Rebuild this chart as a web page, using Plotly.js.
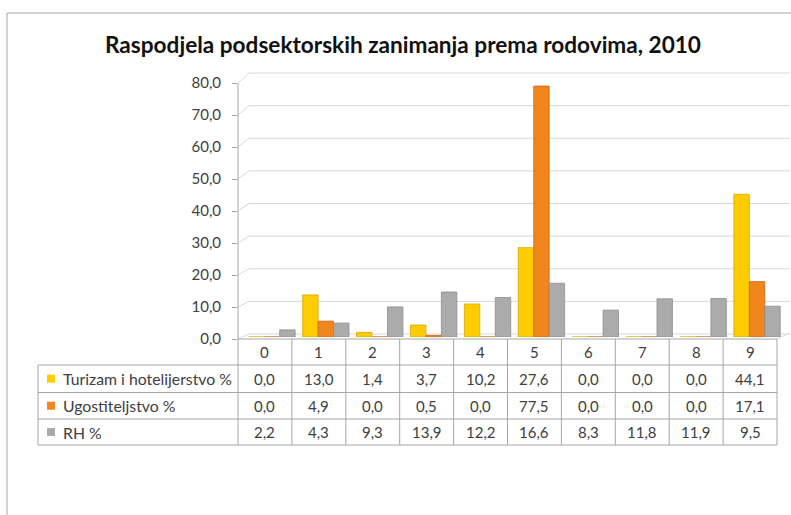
<!DOCTYPE html>
<html>
<head>
<meta charset="utf-8">
<script src="https://cdn.plot.ly/plotly-3.0.1.min.js"></script>
<style>html,body{margin:0;padding:0;background:#fff;}#chart{width:791px;height:515px;}</style>
</head>
<body>
<div id="chart"></div>
<script>
// ---- data ----
const categories = ['0','1','2','3','4','5','6','7','8','9'];
const turizam = [0.0, 13.0, 1.4, 3.7, 10.2, 27.6, 0.0, 0.0, 0.0, 44.1];
const ugostiteljstvo = [0.0, 4.9, 0.0, 0.5, 0.0, 77.5, 0.0, 0.0, 0.0, 17.1];
const rh = [2.2, 4.3, 9.3, 13.9, 12.2, 16.6, 8.3, 11.8, 11.9, 9.5];
const seriesNames = ['Turizam i hotelijerstvo %', 'Ugostiteljstvo %', 'RH %'];
const yTicks = [0, 10, 20, 30, 40, 50, 60, 70, 80];
const chartTitle = 'Raspodjela podsektorskih zanimanja prema rodovima, 2010';

// ---- styles / geometry ----
const colors = ['#FFCC00', '#F0861C', '#ABABAB'];
const edgeColors = ['#D6A800', '#C8661A', '#8E8E8E'];
const W = 791, H = 515, L = 238, R = 1, T = 78, B = 176;
const PW = W - L - R, PH = H - T - B;
const frontTop = 83;          // pixel of 80,0 on the front axis
const barBase = 337, barTop = 78; // mid-depth plane of the bars
const tableRight = 777, barShift = 7;
const fontFam = 'Lato, "Open Sans", sans-serif';
const txtColor = '#404040';
const lineColor = '#A6A6A6';
const gridColor = '#D9D9D9';

const px2x = px => (px - L) / PW;
const px2y = py => (H - B - py) / PH;
const yMax = 80;
const val2py = v => (H - B) - v / yMax * (H - B - frontTop);

const fmt = v => v.toFixed(1).replace('.', ',');
const seriesVals = [turizam, ugostiteljstvo, rh];

const traces = seriesVals.map((vals, i) => ({
  type: 'bar', x: categories, y: vals, name: seriesNames[i],
  xaxis: 'x2', yaxis: 'y2',
  marker: {color: colors[i], line: {color: edgeColors[i], width: 0.8}},
  hoverinfo: 'x+y+name'
}));

const shapes = [];
const annotations = [];

// outer frame
shapes.push({type: 'rect', xref: 'paper', yref: 'paper',
  x0: px2x(7), x1: px2x(900), y0: px2y(600), y1: px2y(13),
  line: {color: lineColor, width: 1}, layer: 'below'});

// 3D back wall gridlines
yTicks.forEach(v => {
  const yv = val2py(v);
  const dy = 5 + 5 * v / yMax;
  shapes.push({type: 'line', xref: 'paper', yref: 'paper', layer: 'below',
    x0: px2x(L), y0: px2y(yv), x1: px2x(L + 11), y1: px2y(yv - dy),
    line: {color: gridColor, width: 1}});
  shapes.push({type: 'line', xref: 'paper', yref: 'paper', layer: 'below',
    x0: px2x(L + 11), y0: px2y(yv - dy), x1: px2x(790), y1: px2y(yv - dy),
    line: {color: gridColor, width: 1}});
});
// floor right edge
shapes.push({type: 'line', xref: 'paper', yref: 'paper', layer: 'below',
  x0: px2x(tableRight), y0: px2y(val2py(0)), x1: px2x(790), y1: px2y(val2py(0) - 6),
  line: {color: gridColor, width: 1}});

// table
const rowLines = [H - B, 365, 392.5, 419, 445];
const colW = (tableRight - L) / categories.length;
rowLines.forEach((ry, k) => {
  shapes.push({type: 'line', xref: 'paper', yref: 'paper',
    x0: px2x(k === 0 ? L : 38), x1: px2x(tableRight), y0: px2y(ry), y1: px2y(ry),
    line: {color: lineColor, width: 1}});
});
for (let k = 0; k <= categories.length; k++) {
  const cx = L + k * colW;
  shapes.push({type: 'line', xref: 'paper', yref: 'paper',
    x0: px2x(cx), x1: px2x(cx), y0: px2y(k === 0 ? frontTop : rowLines[0]), y1: px2y(445),
    line: {color: lineColor, width: 1}});
}
shapes.push({type: 'line', xref: 'paper', yref: 'paper',
  x0: px2x(38), x1: px2x(38), y0: px2y(365), y1: px2y(445),
  line: {color: lineColor, width: 1}});

// header categories
const headerY = (rowLines[0] + rowLines[1]) / 2;
categories.forEach((c, i) => {
  annotations.push({xref: 'x', yref: 'paper', x: i, y: px2y(headerY), text: c,
    showarrow: false, xanchor: 'center', yanchor: 'middle',
    font: {family: fontFam, size: 15, color: txtColor}});
});
// rows
seriesVals.forEach((vals, r) => {
  const cy = (rowLines[r + 1] + rowLines[r + 2]) / 2;
  shapes.push({type: 'rect', xref: 'paper', yref: 'paper',
    x0: px2x(47), x1: px2x(55), y0: px2y(cy + 4), y1: px2y(cy - 4),
    fillcolor: colors[r], line: {width: 0}});
  annotations.push({xref: 'paper', yref: 'paper', x: px2x(61), y: px2y(cy),
    text: seriesNames[r], showarrow: false, xanchor: 'left', yanchor: 'middle',
    font: {family: fontFam, size: 15.8, color: txtColor}});
  vals.forEach((v, i) => {
    annotations.push({xref: 'x', yref: 'paper', x: i, y: px2y(cy), text: fmt(v),
      showarrow: false, xanchor: 'center', yanchor: 'middle',
      font: {family: fontFam, size: 15, color: txtColor}});
  });
});

const layout = {
  width: W, height: H,
  margin: {l: L, r: R, t: T, b: B, pad: 0},
  paper_bgcolor: '#ffffff', plot_bgcolor: 'rgba(0,0,0,0)',
  separators: ', ',
  showlegend: false,
  barmode: 'group', bargap: 0.14, bargroupgap: 0,
  title: {text: chartTitle, x: 403 / W, xanchor: 'center', y: 1 - 45 / H, yanchor: 'middle',
    yref: 'container', xref: 'container',
    font: {family: fontFam, size: 22.6, weight: 'bold', color: '#111111'}},
  xaxis: {type: 'category', domain: [0, (tableRight - L) / PW], range: [-0.5, 9.5],
    visible: false, anchor: 'y'},
  xaxis2: {type: 'category', domain: [barShift / PW, (tableRight - L + barShift) / PW],
    range: [-0.5, 9.5], visible: false, anchor: 'y2'},
  yaxis: {domain: [0, px2y(frontTop)], range: [0, yMax], tickvals: yTicks, tickformat: '.1f',
    ticks: 'outside', ticklen: 5, tickcolor: lineColor, showline: false, showgrid: false,
    zeroline: false, ticklabelstandoff: 8, anchor: 'x',
    tickfont: {family: fontFam, size: 15, color: txtColor}},
  yaxis2: {domain: [px2y(barBase), px2y(barTop)], range: [0, yMax], visible: false,
    showgrid: false, zeroline: false, anchor: 'x2'},
  shapes: shapes,
  annotations: annotations
};

Plotly.newPlot('chart', traces, layout, {displayModeBar: false, staticPlot: true});
</script>
</body>
</html>
